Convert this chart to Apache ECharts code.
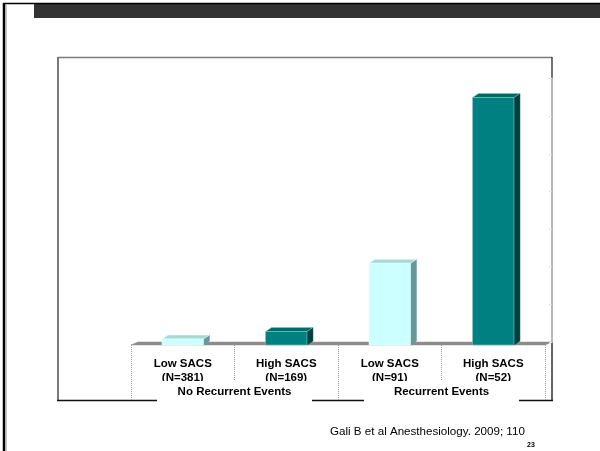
<!DOCTYPE html>
<html>
<head>
<meta charset="utf-8">
<script src="https://cdn.jsdelivr.net/npm/echarts@6/dist/echarts.min.js"></script>
<style>
  html, body { margin: 0; padding: 0; background: #fff; }
  #chart { width: 600px; height: 451px; }
</style>
</head>
<body>
<div id="chart"></div>
<script>
// Postoperative respiratory events by SACS group and PACU recurrent events
const categories = ['Low SACS\n(N=381)', 'High SACS\n(N=169)', 'Low SACS\n(N=91)', 'High SACS\n(N=52)'];
const groups = ['No Recurrent Events', 'Recurrent Events'];
const values = [0.8, 1.8, 10.9, 33.0];
const axisTicks = [0, 5, 10, 15, 20, 25, 30, 35];
const citation = 'Gali B et al Anesthesiology. 2009; 110';
const slideNumber = '23';

const FONT = "'Liberation Sans', Arial, sans-serif";
const DEPTH_X = 6, DEPTH_Y = 4;

// face / top / side colours for light and teal columns
const palette = [
  { front: '#CCFFFF', top: '#A6D6D6', side: '#669999', edge: '#E8FFFF' },
  { front: '#008080', top: '#006A6A', side: '#004040', edge: '#7FC4C4' }
];

const chart = echarts.init(document.getElementById('chart'), null, { renderer: 'canvas' });

function renderBar(params, api) {
  const idx = api.value(0);
  const topPt = api.coord([idx, api.value(1)]);
  const basePt = api.coord([idx, 0]);
  const bw = api.size([1, 0])[0] * 0.4;
  const l = topPt[0] - bw / 2, r = topPt[0] + bw / 2;
  const t = topPt[1], b = basePt[1];
  const c = palette[idx % 2];
  return {
    type: 'group',
    children: [
      { type: 'polygon', shape: { points: [[r, t], [r + DEPTH_X, t - DEPTH_Y], [r + DEPTH_X, b - DEPTH_Y], [r, b]] },
        style: { fill: c.side, stroke: c.side, lineWidth: 0.5 } },
      { type: 'polygon', shape: { points: [[l, t], [l + DEPTH_X, t - DEPTH_Y], [r + DEPTH_X, t - DEPTH_Y], [r, t]] },
        style: { fill: c.top, stroke: c.edge, lineWidth: 0.6 } },
      { type: 'rect', shape: { x: l, y: t, width: bw, height: b - t },
        style: { fill: c.front, stroke: c.edge, lineWidth: 0.6 } }
    ]
  };
}

function renderFloor(params, api) {
  const band = api.size([1, 0])[0];
  const left = api.coord([0, 0])[0] - band / 2;
  const right = api.coord([categories.length - 1, 0])[0] + band / 2;
  const y = api.coord([0, 0])[1];
  return {
    type: 'polygon',
    shape: { points: [[left, y], [right, y], [right + DEPTH_X + 1, y - 3], [left + DEPTH_X + 1, y - 3]] },
    style: { fill: '#8C8C8C', stroke: '#8C8C8C', lineWidth: 0.5 }
  };
}

const option = {
  backgroundColor: '#ffffff',
  animation: false,
  textStyle: { fontFamily: FONT },
  grid: [
    { left: 131, right: 55, top: 82.5, bottom: 106 },
    { left: 138, right: 48, top: 78.5, bottom: 109 }
  ],
  xAxis: [
    {
      type: 'category', gridIndex: 0, data: categories, position: 'bottom',
      axisLine: { show: false },
      axisTick: { show: true, interval: 0, length: 38, lineStyle: { color: '#9a9a9a', type: 'dotted', width: 1 } },
      axisLabel: { interval: 0, margin: 12, color: '#000', fontFamily: FONT, fontWeight: 'bold', fontSize: 11.5, lineHeight: 14 },
      z: 3
    },
    {
      type: 'category', gridIndex: 0, data: groups, position: 'bottom',
      axisLine: { show: false },
      axisTick: { show: true, interval: 0, length: 56, lineStyle: { color: '#9a9a9a', type: 'dotted', width: 1 } },
      axisLabel: {
        interval: 0, margin: 36, color: '#000', fontFamily: FONT, fontWeight: 'bold', fontSize: 11.5,
        lineHeight: 14, width: 155, align: 'center', backgroundColor: '#ffffff', padding: [4, 0, 6, 0]
      },
      z: 10
    },
    { type: 'category', gridIndex: 1, data: categories, show: false }
  ],
  yAxis: [
    { type: 'value', gridIndex: 0, min: 0, max: 35, interval: 5, show: false },
    {
      type: 'value', gridIndex: 1, min: 0, max: 35, interval: 5, position: 'right',
      axisLine: { show: true, onZero: false, lineStyle: { color: '#B8B8B8', width: 2 } },
      axisTick: { show: true, inside: true, length: 3, lineStyle: { color: '#E0E0E0', width: 1 } },
      axisLabel: { show: false },
      splitLine: { show: false },
      z: 4
    }
  ],
  series: [
    {
      type: 'custom', xAxisIndex: 0, yAxisIndex: 0, clip: false, z: 2,
      renderItem: renderFloor, data: [[0, 0]]
    },
    {
      type: 'custom', xAxisIndex: 0, yAxisIndex: 0, clip: false, z: 3,
      renderItem: renderBar,
      encode: { x: 0, y: 1 },
      data: values.map((v, i) => [i, v])
    }
  ],
  graphic: [
    // slide frame and title band
    { type: 'rect', z: 1, shape: { x: 34, y: 4, width: 566, height: 14 }, style: { fill: '#333333' } },
    { type: 'line', z: 1, shape: { x1: 3, y1: 3.5, x2: 600, y2: 3.5 }, style: { stroke: '#000', lineWidth: 1.5 } },
    { type: 'line', z: 1, shape: { x1: 4, y1: 3, x2: 4, y2: 451 }, style: { stroke: '#000', lineWidth: 2.5 } },
    { type: 'line', z: 1, shape: { x1: 6, y1: 5, x2: 6, y2: 451 }, style: { stroke: '#9a9a9a', lineWidth: 1 } },
    // chart frame (right edge split around the value axis)
    { type: 'line', z: 1, shape: { x1: 58, y1: 57.5, x2: 552, y2: 57.5 }, style: { stroke: '#7a7a7a', lineWidth: 1.5 } },
    { type: 'line', z: 1, shape: { x1: 58, y1: 57, x2: 58, y2: 400 }, style: { stroke: '#7a7a7a', lineWidth: 2 } },
    { type: 'line', z: 1, shape: { x1: 552, y1: 57, x2: 552, y2: 79 }, style: { stroke: '#444', lineWidth: 1.5 } },
    { type: 'line', z: 1, shape: { x1: 552, y1: 342, x2: 552, y2: 401 }, style: { stroke: '#333', lineWidth: 1.5 } },
    { type: 'line', z: 1, shape: { x1: 57, y1: 400.5, x2: 553, y2: 400.5 }, style: { stroke: '#111', lineWidth: 1.5 } },
    // source note
    { type: 'text', z: 1, style: { x: 330, y: 432, text: citation, fill: '#000', font: '11.6px ' + FONT, textVerticalAlign: 'middle' } },
    { type: 'text', z: 1, style: { x: 527, y: 445, text: slideNumber, fill: '#000', font: 'bold 7px ' + FONT, textVerticalAlign: 'middle' } }
  ]
};

chart.setOption(option);
</script>
</body>
</html>
